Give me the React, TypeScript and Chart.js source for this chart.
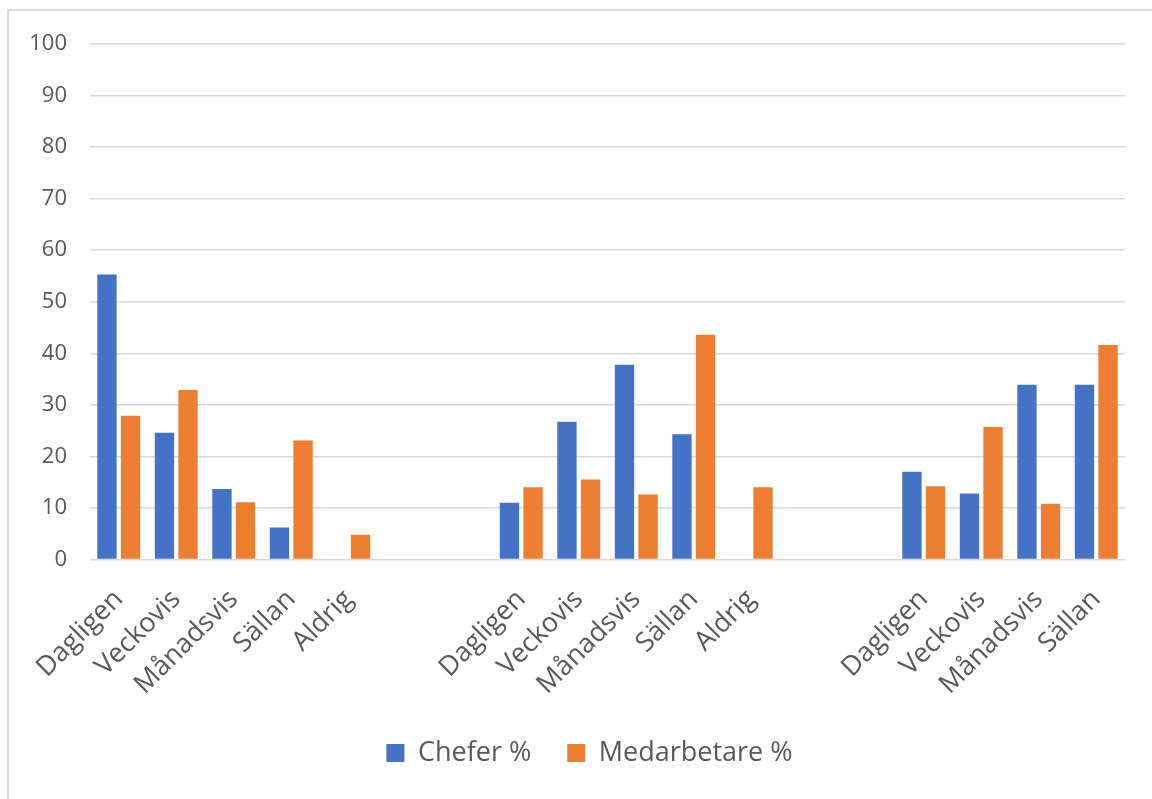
import React, { useEffect, useRef } from "react";
import { Chart, registerables } from "chart.js";

Chart.register(...registerables);

const categories = [
  "Dagligen", "Veckovis", "Månadsvis", "Sällan", "Aldrig", "", "",
  "Dagligen", "Veckovis", "Månadsvis", "Sällan", "Aldrig", "", "",
  "Dagligen", "Veckovis", "Månadsvis", "Sällan",
];
const cheferValues = [
  55.3, 24.6, 13.7, 6.2, null, null, null,
  11.0, 26.7, 37.8, 24.3, null, null, null,
  17.0, 12.8, 33.9, 33.9,
];
const medarbetareValues = [
  27.9, 32.9, 11.1, 23.1, 4.8, null, null,
  14.0, 15.5, 12.6, 43.6, 14.0, null, null,
  14.2, 25.7, 10.8, 41.6,
];
const seriesNames = ["Chefer %", "Medarbetare %"];
const yMin = 0;
const yMax = 100;
const yStep = 10;

const FONT = "'Open Sans', 'Liberation Sans', sans-serif";
const TEXT = "#595959";

const legendShift = {
  id: "legendShift",
  afterLayout(chart: any) {
    const lg = chart.legend;
    if (lg) {
      lg.left = 54;
    }
  },
};

export default function App() {
  const ref = useRef<HTMLCanvasElement | null>(null);

  useEffect(() => {
    const canvas = ref.current;
    if (!canvas) return;
    const chart = new Chart(canvas, {
      type: "bar",
      data: {
        labels: categories,
        datasets: [
          {
            label: seriesNames[0],
            data: cheferValues,
            backgroundColor: "#4472C4",
            borderWidth: 0,
            categoryPercentage: 0.82,
            barPercentage: 0.82,
          },
          {
            label: seriesNames[1],
            data: medarbetareValues,
            backgroundColor: "#ED7D31",
            borderWidth: 0,
            categoryPercentage: 0.82,
            barPercentage: 0.82,
          },
        ],
      },
      plugins: [legendShift],
      options: {
        animation: false,
        responsive: false,
        devicePixelRatio: 1,
        layout: { padding: { left: 0, right: 27, top: 44, bottom: 22.5 } },
        plugins: {
          tooltip: { enabled: false },
          legend: {
            position: "bottom",
            labels: {
              boxWidth: 18,
              boxHeight: 18,
              padding: 36,
              color: TEXT,
              font: { family: FONT, size: 27 },
            },
          },
        },
        scales: {
          x: {
            grid: { display: false, drawTicks: false },
            border: { display: false },
            ticks: {
              autoSkip: false,
              minRotation: 45,
              maxRotation: 45,
              color: TEXT,
              padding: 24,
              font: { family: FONT, size: 27 },
            },
            afterFit: (s: any) => {
              s.height = 144;
            },
          },
          y: {
            min: yMin,
            max: yMax,
            ticks: {
              stepSize: yStep,
              color: TEXT,
              padding: 23,
              font: { family: FONT, size: 22 },
            },
            grid: { color: "#d9d9d9", lineWidth: 1.5, drawTicks: false },
            border: { display: false },
            afterFit: (s: any) => {
              s.width = 90;
            },
          },
        },
      },
    });
    return () => chart.destroy();
  }, []);

  return (
    <>
      <div
        style={{
          position: "fixed",
          left: 7,
          top: 9,
          width: 1300,
          height: 1000,
          borderTop: "2px solid #d9d9d9",
          borderLeft: "2px solid #d9d9d9",
          pointerEvents: "none",
        }}
      />
      <canvas
        ref={ref}
        width={1152}
        height={799}
        style={{ position: "fixed", left: 0, top: 0, width: 1152, height: 799 }}
      />
    </>
  );
}
